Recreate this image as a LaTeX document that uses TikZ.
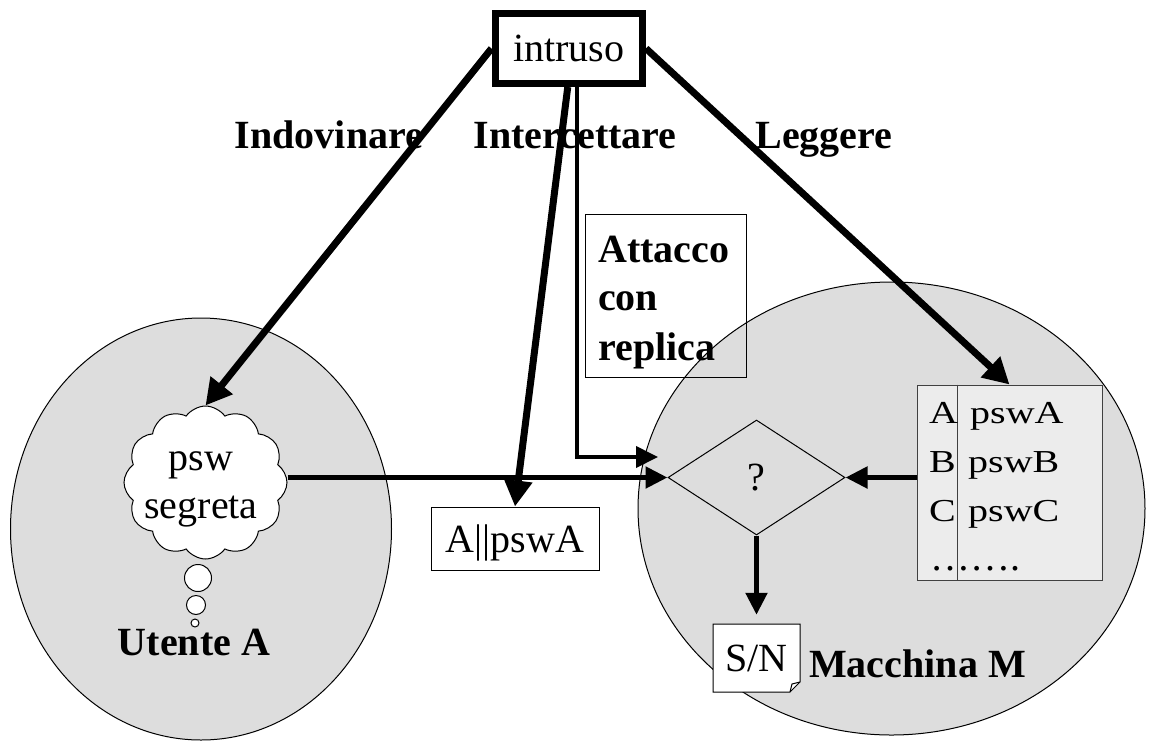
\documentclass[tikz,border=0pt]{standalone}
\usepackage{fontspec}
\setmainfont{Liberation Serif}
\usetikzlibrary{arrows.meta,shapes.geometric,shapes.symbols,calc}
\definecolor{zonegray}{RGB}{221,221,221}
\definecolor{tablegray}{RGB}{236,236,236}
\newcommand\rowtext[1]{\scalebox{1}[0.8]{#1}}
\begin{document}
\begin{tikzpicture}[x=1pt,y=-1pt,
  zone/.style={ellipse, draw, line width=1pt, fill=zonegray, inner sep=0pt},
  txt/.style={font=\fontsize{40}{48}\selectfont, inner sep=0pt},
  lbl/.style={font=\fontsize{40}{48}\selectfont\bfseries, inner sep=0pt},
  thinbox/.style={draw, line width=1pt},
  heavy/.style={line width=7pt, -{Triangle[length=26pt,width=27pt]}},
  medium/.style={line width=5pt, -{Triangle[length=22pt,width=21pt]}},
  slim/.style={line width=4pt, -{Triangle[length=22pt,width=21pt]}},
  bubble/.style={circle, draw, fill=white, line width=1pt, inner sep=0pt},
  tabline/.style={draw=black!75, line width=1pt},
]
\useasboundingbox (0,0) rectangle (1157,740);

% the two domains
\node[zone, minimum width=381pt, minimum height=422pt] (user) at (201,529) {};
\node[zone, minimum width=507pt, minimum height=453pt] (host) at (891.5,508.5) {};

% intruder
\node[draw, line width=7pt, fill=white, minimum width=147.5pt, minimum height=70pt, txt] (intr) at (568.75,48.5) {intruso};

% secret password thought
\node[cloud, draw, fill=white, line width=1pt, cloud puffs=12, cloud puff arc=110,
      minimum width=163pt, minimum height=153pt, inner sep=0pt] (cloud) at (205.5,482.5) {};
\node[txt, anchor=base] (psw) at (201,470) {psw};
\node[txt, anchor=base] (segr) at (201,518) {segreta};
\node[bubble, minimum size=27pt] (b1) at (198,578) {};
\node[bubble, minimum size=19pt] (b2) at (196,605) {};
\node[bubble, minimum size=8pt] (b3) at (195,623) {};
\node[lbl, anchor=base] (utente) at (194,655) {Utente A};

% check performed by the machine
\node[diamond, draw, line width=1pt, minimum width=177pt, minimum height=115pt, inner sep=0pt, txt] (dia) at (756.5,477.5) {?};

% password table
\node[tabline, fill=tablegray, minimum width=185pt, minimum height=195pt] (tab) at (1009.5,482.5) {};
\draw[tabline] ($(tab.north west)+(41,0)$) -- ($(tab.south west)+(41,0)$);
\node[txt, anchor=base west] (ra) at (929,423) {\rowtext{A}};
\node[txt, anchor=base west] (rpa) at (970,423) {\rowtext{pswA}};
\node[txt, anchor=base west] (rb) at (929,472) {\rowtext{B}};
\node[txt, anchor=base west] (rpb) at (968,472) {\rowtext{pswB}};
\node[txt, anchor=base west] (rc) at (929,521) {\rowtext{C}};
\node[txt, anchor=base west] (rpc) at (968,521) {\rowtext{pswC}};
\node[txt, anchor=base west] (rdots) at (930,570) {…….};

% intercepted message
\node[thinbox, fill=white, minimum width=168pt, minimum height=63pt, txt, text height=27pt, text depth=0pt] (msg) at (515,538.5) {A||pswA};

% replay attack
\node[thinbox, minimum width=161pt, minimum height=163pt] (att) at (665.5,295.5) {};
\node[lbl, anchor=base west] (att1) at (598,262) {Attacco};
\node[lbl, anchor=base west] (att2) at (598,310) {con};
\node[lbl, anchor=base west] (att3) at (598,360) {replica};

% yes/no result sheet with a folded corner
\coordinate (snnw) at (713,624);
\coordinate (snse) at (800,692);
\filldraw[fill=white, line width=1pt] (snnw) -- (snnw -| snse) -- ($(snse)+(0,-10)$) -- ($(snse)+(-10,0)$) -- (snnw |- snse) -- cycle;
\draw[line width=1pt] ($(snse)+(-10,0)$) -- ($(snse)+(-8,-8)$) -- ($(snse)+(0,-10)$);
\node[txt, minimum width=87pt, minimum height=68pt] (sn) at ($(snnw)!0.5!(snse)$) {S/N};
\node[lbl, anchor=base] (mach) at (917.5,677) {Macchina M};

% attacks
\coordinate (replay) at (658,457);
\draw[heavy] (intr.west) -- (cloud.north);
\draw[heavy] (intr.east) -- (tab.north);
\draw[heavy] ($(intr.south)+(-1,0)$) -- (msg.north);
\draw[slim] ($(intr.south)+(8,0)$) |- (replay);

% login flow
\draw[medium] (cloud.east |- dia.west) -- (dia.west);
\draw[medium] (tab.west |- dia.east) -- (dia.east);
\draw[medium, shorten >=9pt] (dia.south) -- (sn.north);

% attack names
\node[lbl, anchor=base] (guess) at (329,148) {Indovinare};
\node[lbl, anchor=base] (sniff) at (575,148) {Intercettare};
\node[lbl, anchor=base] (read) at (824,148) {Leggere};
\end{tikzpicture}
\end{document}
